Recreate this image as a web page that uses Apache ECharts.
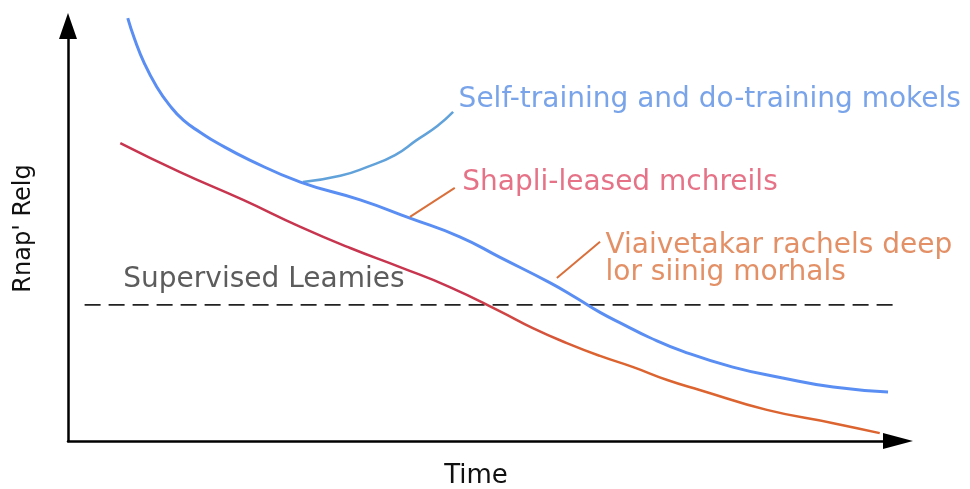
<!DOCTYPE html>
<html>
<head>
<meta charset="utf-8">
<script src="https://cdn.jsdelivr.net/npm/echarts@6/dist/echarts.min.js"></script>
<style>
	html, body { margin: 0; padding: 0; background: #fff; }
	#main { width: 970px; height: 489px; }
</style>
</head>
<body>
<div id="main"></div>
<script>
// curves, x = time (0..100), y = rate (0..100)
var blueMain = [[7.2,101.9],[8.0,97.0],[9.2,91.0],[10.7,85.3],[12.2,81.0],[13.9,77.3],[16.0,74.3],[18.0,71.8],[21.9,67.7],[28.0,62.4],[35.2,58.1],[41.2,53.7],[47.2,49.2],[52.0,44.3],[58.1,38.1],[61.3,34.4],[64.1,31.0],[67.0,28.0],[70.0,25.0],[74.1,21.6],[80.1,17.8],[86.1,15.2],[92.2,13.0],[98.8,11.8]]
var blueBranch = [[28.3,62.4],[32.8,63.9],[36.0,66.0],[39.4,68.9],[42.0,72.5],[44.5,75.9],[46.4,79.3]]
var redLine = [[6.3,71.8],[13.5,64.8],[21.1,58.1],[28.0,51.6],[34.0,46.5],[40.0,41.9],[46.0,37.1],[52.0,31.3],[56.0,27.2],[60.1,23.6],[64.1,20.5],[68.1,17.8],[72.2,14.7],[76.1,12.3],[84.2,7.5],[92.2,4.3],[97.8,1.9]]
var supervised = [[2.0,32.8],[99.4,32.8]]
var leaderShapli = [[41.2,54.0],[46.6,61.0]]
var leaderVia = [[58.9,39.3],[64.1,48.0]]

var xName = 'Time'
var yName = "Rnap' Relg"
var txtSelf = 'Self-training and do-training mokels'
var txtShapli = 'Shapli-leased mchreils'
var txtVia = 'Viaivetakar rachels deep\nlor siinig morhals'
var txtSup = 'Supervised Leamies'

var font = 'DejaVu Sans'

function labelPoint(pt, text, color, offset){
	return {
		type: 'scatter', symbolSize: 1, silent: true,
		itemStyle: { color: 'rgba(0,0,0,0)' },
		label: { show: true, position: 'right', distance: 5, offset: offset, formatter: text,
			color: color, fontSize: 28, fontFamily: font, lineHeight: 27 },
		data: [pt]
	}
}

var chart = echarts.init(document.getElementById('main'))
chart.setOption({
	animation: false,
	grid: { left: 68, right: 72, top: 26, bottom: 48, containLabel: false, outerBoundsMode: 'none' },
	xAxis: {
		type: 'value', min: 0, max: 100,
		name: xName, nameLocation: 'middle', nameGap: 22,
		nameTextStyle: { fontSize: 26, fontFamily: font, color: '#111', padding: [0, 14, 0, 0] },
		axisLine: { lineStyle: { color: '#000', width: 2.5 }, symbol: ['none', 'triangle'], symbolSize: [16, 30] },
		axisTick: { show: false }, axisLabel: { show: false }, splitLine: { show: false }
	},
	yAxis: {
		type: 'value', min: 0, max: 100,
		name: yName, nameLocation: 'middle', nameGap: 32, nameRotate: 90,
		nameTextStyle: { fontSize: 24, fontFamily: font, color: '#111', padding: [0, 0, 0, 10] },
		axisLine: { show: true, lineStyle: { color: '#000', width: 2.5 }, symbol: ['none', 'triangle'], symbolSize: [18, 26] },
		axisTick: { show: false }, axisLabel: { show: false }, splitLine: { show: false }
	},
	series: [
		{ type: 'line', data: supervised, showSymbol: false, lineStyle: { color: '#222', width: 1.6, type: [16, 8] } },
		{ type: 'line', data: redLine, smooth: 0.5, showSymbol: false,
			lineStyle: { width: 2.5, color: new echarts.graphic.LinearGradient(0, 0, 1, 0, [
				{ offset: 0, color: '#c8354f' }, { offset: 0.45, color: '#c8354f' },
				{ offset: 0.62, color: '#dc6430' }, { offset: 1, color: '#dc6430' }]) } },
		{ type: 'line', data: blueBranch, smooth: 0.5, showSymbol: false, lineStyle: { color: '#62a2da', width: 2.5 } },
		{ type: 'line', data: blueMain, smooth: 0.5, showSymbol: false, clip: false, lineStyle: { color: '#5a8ef3', width: 3 } },
		{ type: 'line', data: leaderShapli, showSymbol: false, lineStyle: { color: '#d9703c', width: 2 } },
		{ type: 'line', data: leaderVia, showSymbol: false, lineStyle: { color: '#d9703c', width: 2 } },
		labelPoint(blueBranch[blueBranch.length - 1], txtSelf, '#578de4', [0, -12]),
		labelPoint(leaderShapli[1], txtShapli, '#e04f69', [2, -5]),
		labelPoint(leaderVia[1], txtVia, '#dc7440', [0, 17]),
		labelPoint([6.0, 38.8], txtSup, '#333', [0, 0])
	]
})
</script>
</body>
</html>
